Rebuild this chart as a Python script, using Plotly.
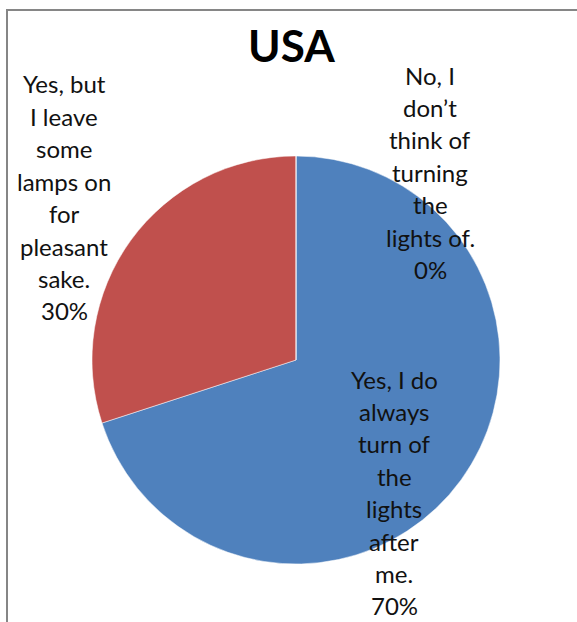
import plotly.graph_objects as go

# Survey answers, in slice order (clockwise from 12 o'clock)
categories = [
    "Yes, I do always turn of the lights after me.",
    "Yes, but I leave some lamps on for pleasant sake.",
    "No, I don\u2019t think of turning the lights of.",
]
values = [70, 30, 0]
colors = ["#4F81BD", "#C0504D", "#9BBB59"]

# How each category label wraps inside its box
label_lines = [
    ["Yes, I do", "always", "turn of", "the", "lights", "after", "me."],
    ["Yes, but", "I leave", "some", "lamps on", "for", "pleasant", "sake."],
    ["No, I", "don\u2019t", "think of", "turning", "the", "lights of."],
]

W, H = 577, 622
# pie box in pixels: centre and radius
cx, cy, r = 296, 360, 204
# label boxes: centre x and first-line y (pixels), shared line pitch
label_pos = [(394, 379), (64, 84), (430, 75)]
pitch = 32.4


def px(x):
    return x / W


def py(y):
    return 1 - y / H


fig = go.Figure(
    go.Pie(
        labels=categories,
        values=values,
        sort=False,
        direction="clockwise",
        rotation=0,
        marker=dict(colors=colors, line=dict(color="white", width=0.5)),
        textinfo="none",
        hoverinfo="label+percent",
        showlegend=False,
        domain=dict(x=[px(cx - r), px(cx + r)], y=[py(cy + r), py(cy - r)]),
    )
)

total = sum(values)
annotations = []
for lines, v, (lx, ly) in zip(label_lines, values, label_pos):
    text_lines = lines + [f"{v / total * 100:.0f}%"]
    for i, t in enumerate(text_lines):
        annotations.append(
            dict(
                text=t,
                x=px(lx),
                y=py(ly + i * pitch),
                xref="paper",
                yref="paper",
                xanchor="center",
                yanchor="middle",
                showarrow=False,
                font=dict(family="Lato", size=24, color="#111111"),
            )
        )

annotations.append(
    dict(
        text="<b>USA</b>",
        x=px(291),
        y=py(45),
        xref="paper",
        yref="paper",
        xanchor="center",
        yanchor="middle",
        showarrow=False,
        font=dict(family="Lato", size=44, color="#000000"),
    )
)

# chart-area frame (top and left edges visible)
shapes = [
    dict(
        type="line", xref="paper", yref="paper",
        x0=px(7), y0=0, x1=px(7), y1=py(10),
        line=dict(color="#868686", width=2),
    ),
    dict(
        type="line", xref="paper", yref="paper",
        x0=px(6), y0=py(10), x1=1, y1=py(10),
        line=dict(color="#868686", width=2),
    ),
]

fig.update_layout(
    width=W,
    height=H,
    margin=dict(l=0, r=0, t=0, b=0),
    paper_bgcolor="white",
    plot_bgcolor="white",
    annotations=annotations,
    shapes=shapes,
)

fig.write_html("out.html")
